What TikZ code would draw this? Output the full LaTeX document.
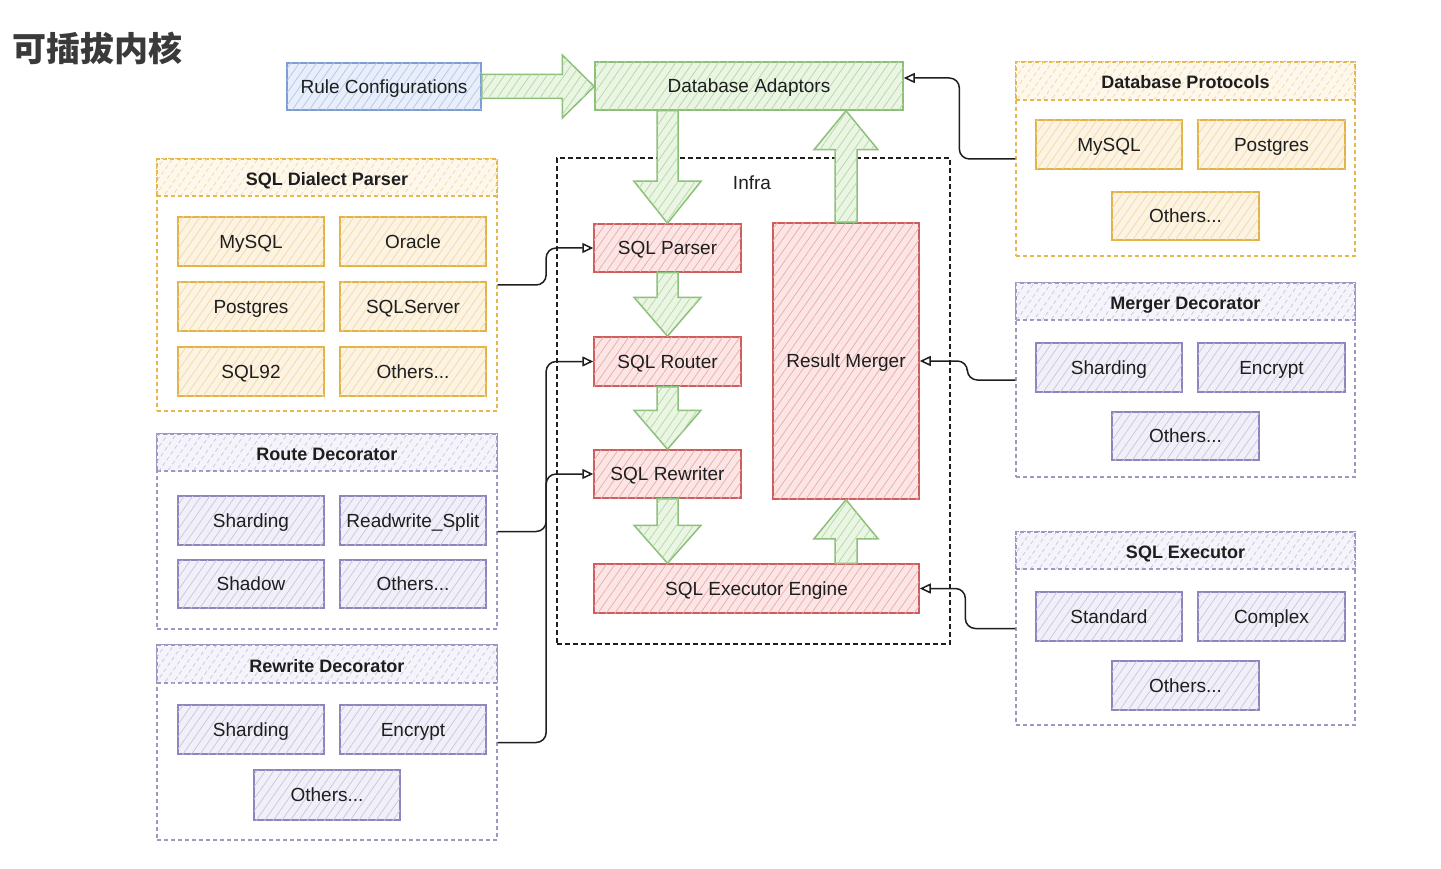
\documentclass[tikz,border=0pt]{standalone}
\usepackage{fontspec}
\setmainfont{Liberation Sans}
\newfontfamily\cjk{Noto Sans CJK SC}
\usetikzlibrary{patterns.meta,arrows.meta,calc}
\definecolor{ink}{HTML}{1E1E1E}
\definecolor{titlec}{HTML}{3A3A3A}
\definecolor{orgB}{HTML}{E2B445}
\definecolor{orgC}{HTML}{E6B84C}
\definecolor{orgF}{HTML}{FDF3E2}
\definecolor{orgF2}{HTML}{FDF7EC}
\definecolor{orgH}{HTML}{F1D8A6}
\definecolor{purB}{HTML}{8C86BE}
\definecolor{purC}{HTML}{9C98C2}
\definecolor{purF}{HTML}{F1F0F8}
\definecolor{purF2}{HTML}{F5F4FA}
\definecolor{purH}{HTML}{C8C4E2}
\definecolor{redB}{HTML}{D05C5C}
\definecolor{redF}{HTML}{FBE5E5}
\definecolor{redH}{HTML}{EDAAAA}
\definecolor{grnB}{HTML}{8CC07A}
\definecolor{grnF}{HTML}{EAF5E4}
\definecolor{grnH}{HTML}{B2D9A1}
\definecolor{bluB}{HTML}{7C9ED0}
\definecolor{bluF}{HTML}{E8EFFA}
\definecolor{bluH}{HTML}{B2C6E8}
\newcommand\bx[7]{\node[#1,minimum width={(#4)-(#2)},minimum height={(#5)-(#3)}] (#6) at ({((#2)+(#4))/2},{((#3)+(#5))/2}) {#7};}
\begin{document}
\begin{tikzpicture}[x=1pt,y=-1pt,
  hatch/.style={postaction={pattern={Lines[angle=55,distance=7pt,line width=0.7pt]},pattern color=#1}},
  box/.style={draw,line width=1.5pt,inner sep=0pt,font=\fontsize{19}{22}\selectfont,text=ink,text height=13.6pt,text depth=0pt},
  obox/.style={box,draw=orgB,fill=orgF,hatch=orgH},
  pbox/.style={box,draw=purB,fill=purF,hatch=purH},
  rbox/.style={box,draw=redB,fill=redF,hatch=redH},
  gbox/.style={box,draw=grnB,fill=grnF,hatch=grnH},
  bbox/.style={box,draw=bluB,fill=bluF,hatch=bluH},
  cont/.style={draw,line width=1.3pt,dash pattern=on 4pt off 3pt,inner sep=0pt},
  chead/.style={cont,font=\bfseries\fontsize{18}{21}\selectfont,text=ink,text height=16pt,text depth=-4pt},
  ohead/.style={chead,draw=orgC,fill=orgF2,hatch=orgH},
  phead/.style={chead,draw=purC,fill=purF2,hatch=purH},
  infrab/.style={draw=ink,line width=1.7pt,dash pattern=on 5pt off 3pt,inner sep=0pt},
  garr/.style={draw=grnB,line width=1.5pt,fill=grnF,hatch=grnH,line join=miter},
  conn/.style={draw=ink,line width=1.5pt,rounded corners=10pt,-{Triangle[open,length=11pt,width=10pt]}}
]
\useasboundingbox[fill=white] (0,0) rectangle (1441,869);

% title
\node[font=\cjk\bfseries\fontsize{34}{38}\selectfont,text=titlec,anchor=west,inner sep=0pt] (title) at (12,48) {可插拔内核};

% top row
\bx{bbox}{287}{63}{481}{110}{rc}{Rule Configurations}
\bx{gbox}{595}{62}{903}{110}{da}{Database Adaptors}

% Database Protocols
\bx{cont,draw=orgC}{1016}{62}{1355}{256}{dbp}{}
\bx{ohead}{1016}{62}{1355}{100}{dbph}{Database Protocols}
\bx{obox}{1036}{120}{1182}{169}{dbp1}{MySQL}
\bx{obox}{1198}{120}{1345}{169}{dbp2}{Postgres}
\bx{obox}{1112}{192}{1259}{240}{dbp3}{Others...}

% SQL Dialect Parser
\bx{cont,draw=orgC}{157}{159}{497}{411}{dp}{}
\bx{ohead}{157}{159}{497}{196}{dph}{SQL Dialect Parser}
\bx{obox}{178}{217}{324}{266}{dp1}{MySQL}
\bx{obox}{340}{217}{486}{266}{dp2}{Oracle}
\bx{obox}{178}{282}{324}{331}{dp3}{Postgres}
\bx{obox}{340}{282}{486}{331}{dp4}{SQLServer}
\bx{obox}{178}{347}{324}{396}{dp5}{SQL92}
\bx{obox}{340}{347}{486}{396}{dp6}{Others...}

% Route Decorator
\bx{cont,draw=purC}{157}{434}{497}{629}{rd}{}
\bx{phead}{157}{434}{497}{471}{rdh}{Route Decorator}
\bx{pbox}{178}{496}{324}{545}{rd1}{Sharding}
\bx{pbox}{340}{496}{486}{545}{rd2}{Readwrite\_Split}
\bx{pbox}{178}{560}{324}{608}{rd3}{Shadow}
\bx{pbox}{340}{560}{486}{608}{rd4}{Others...}

% Rewrite Decorator
\bx{cont,draw=purC}{157}{645}{497}{840}{wd}{}
\bx{phead}{157}{645}{497}{683}{wdh}{Rewrite Decorator}
\bx{pbox}{178}{705}{324}{754}{wd1}{Sharding}
\bx{pbox}{340}{705}{486}{754}{wd2}{Encrypt}
\bx{pbox}{254}{770}{400}{820}{wd3}{Others...}

% Merger Decorator
\bx{cont,draw=purC}{1016}{283}{1355}{477}{md}{}
\bx{phead}{1016}{283}{1355}{320}{mdh}{Merger Decorator}
\bx{pbox}{1036}{343}{1182}{392}{md1}{Sharding}
\bx{pbox}{1198}{343}{1345}{392}{md2}{Encrypt}
\bx{pbox}{1112}{412}{1259}{460}{md3}{Others...}

% SQL Executor
\bx{cont,draw=purC}{1016}{532}{1355}{725}{se}{}
\bx{phead}{1016}{532}{1355}{569}{seh}{SQL Executor}
\bx{pbox}{1036}{592}{1182}{641}{se1}{Standard}
\bx{pbox}{1198}{592}{1345}{641}{se2}{Complex}
\bx{pbox}{1112}{661}{1259}{710}{se3}{Others...}

% Infra
\bx{infrab}{557}{158}{950}{644}{infra}{}
\node[font=\fontsize{19}{22}\selectfont,text=ink,inner sep=0pt,text height=13.6pt,text depth=0pt] (infral) at (752,183) {Infra};
\bx{rbox}{594}{224}{741}{272}{sp}{SQL Parser}
\bx{rbox}{594}{337}{741}{386}{sr}{SQL Router}
\bx{rbox}{594}{450}{741}{498}{sw}{SQL Rewriter}
\bx{rbox}{594}{564}{919}{613}{ee}{SQL Executor Engine}
\bx{rbox}{773}{223}{919}{499}{rm}{Result Merger}

% big green arrows
\draw[garr] let \p1=(rc.east), \p2=(da.west) in
  (\x1,\y1+12pt) -- (\x2-32pt,\y1+12pt) -- (\x2-32pt,\y1+31.5pt) -- (\x2,\y1)
  -- (\x2-32pt,\y1-31.5pt) -- (\x2-32pt,\y1-12pt) -- (\x1,\y1-12pt) -- cycle;
\draw[garr] let \p1=(sp.north), \p2=(sp.north |- da.south) in
  (\x1-10.5pt,\y2) -- (\x1-10.5pt,\y1+42pt) -- (\x1-33.5pt,\y1+42pt) -- (\x1,\y1)
  -- (\x1+33.5pt,\y1+42pt) -- (\x1+10.5pt,\y1+42pt) -- (\x1+10.5pt,\y2) -- cycle;
\draw[garr] let \p1=(sr.north), \p2=(sp.south) in
  (\x1-10.5pt,\y2) -- (\x1-10.5pt,\y1+39pt) -- (\x1-33.5pt,\y1+39pt) -- (\x1,\y1)
  -- (\x1+33.5pt,\y1+39pt) -- (\x1+10.5pt,\y1+39pt) -- (\x1+10.5pt,\y2) -- cycle;
\draw[garr] let \p1=(sw.north), \p2=(sr.south) in
  (\x1-10.5pt,\y2) -- (\x1-10.5pt,\y1+39pt) -- (\x1-33.5pt,\y1+39pt) -- (\x1,\y1)
  -- (\x1+33.5pt,\y1+39pt) -- (\x1+10.5pt,\y1+39pt) -- (\x1+10.5pt,\y2) -- cycle;
\draw[garr] let \p1=(sw.south |- ee.north), \p2=(sw.south) in
  (\x1-10.5pt,\y2) -- (\x1-10.5pt,\y1+38pt) -- (\x1-33.5pt,\y1+38pt) -- (\x1,\y1)
  -- (\x1+33.5pt,\y1+38pt) -- (\x1+10.5pt,\y1+38pt) -- (\x1+10.5pt,\y2) -- cycle;
\draw[garr] let \p1=(rm.south), \p2=(rm.south |- ee.north) in
  (\x1-11pt,\y2) -- (\x1-11pt,\y1-39pt) -- (\x1-32pt,\y1-39pt) -- (\x1,\y1)
  -- (\x1+32pt,\y1-39pt) -- (\x1+11pt,\y1-39pt) -- (\x1+11pt,\y2) -- cycle;
\draw[garr] let \p1=(rm.north |- da.south), \p2=(rm.north) in
  (\x1-11pt,\y2) -- (\x1-11pt,\y1-39pt) -- (\x1-32pt,\y1-39pt) -- (\x1,\y1)
  -- (\x1+32pt,\y1-39pt) -- (\x1+11pt,\y1-39pt) -- (\x1+11pt,\y2) -- cycle;

% connectors
\draw[conn] (dbp.west) -- ++(-56,0) |- ([yshift=8pt]da.east);
\draw[conn] (dp.east) -- ++(48.5,0) |- (sp.west);
\draw[conn] (rd.east) -- ++(48.5,0) |- (sr.west);
\draw[conn] (wd.east) -- ++(48.5,0) |- (sw.west);
\draw[conn] (md.west) -- ++(-48,0) |- (rm.east);
\draw[conn] (se.west) -- ++(-50,0) |- (ee.east);
\end{tikzpicture}
\end{document}
